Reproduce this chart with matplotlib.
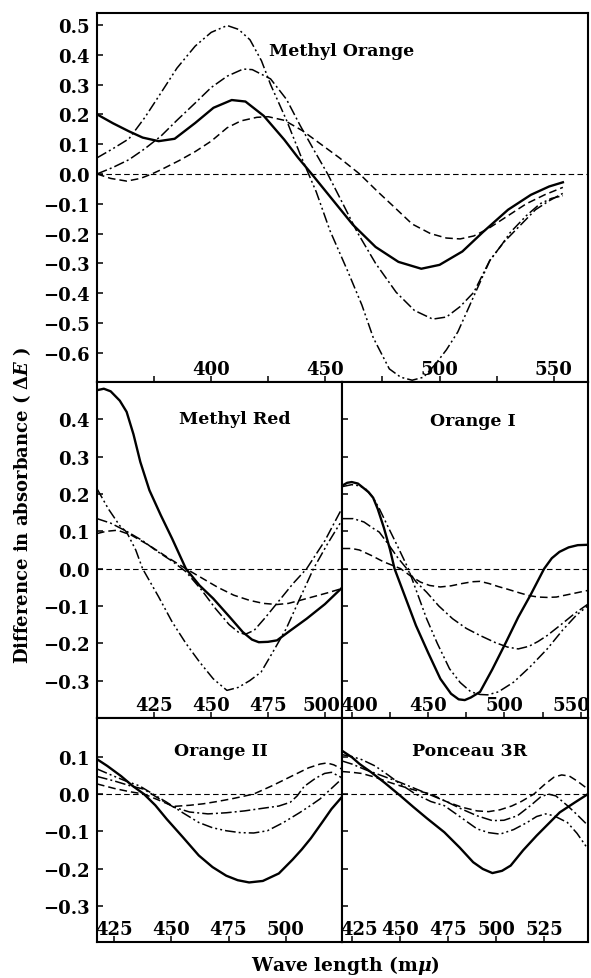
import matplotlib
matplotlib.use("Agg")
import matplotlib.pyplot as plt
import matplotlib.transforms as mtransforms
from matplotlib.ticker import FixedLocator

plt.rcParams["font.family"] = ["DejaVu Serif"]
plt.rcParams["font.weight"] = "bold"
plt.rcParams["mathtext.fontset"] = "dejavuserif"

# ---- Methyl Orange (top panel) ----
mo_solid_x = [350, 357, 364, 370, 377, 384, 393, 401, 409, 415, 423, 432, 438, 444, 453, 462, 472, 482, 492, 500, 510, 519, 530, 540, 548, 554]
mo_solid_y = [0.20, 0.17, 0.143, 0.122, 0.110, 0.118, 0.171, 0.222, 0.248, 0.243, 0.195, 0.115, 0.055, 0.0, -0.085, -0.170, -0.245, -0.295, -0.318, -0.305, -0.260, -0.195, -0.120, -0.070, -0.042, -0.028]
mo_dash_x = [350, 356, 363, 369, 374, 378, 386, 393, 400, 407, 413, 420, 425, 432, 440, 448, 456, 465, 473, 480, 488, 496, 503, 509, 515, 521, 530, 538, 546, 554]
mo_dash_y = [0.0, -0.015, -0.024, -0.015, 0.0, 0.014, 0.045, 0.075, 0.110, 0.155, 0.178, 0.190, 0.192, 0.180, 0.145, 0.100, 0.055, 0.0, -0.060, -0.110, -0.168, -0.200, -0.215, -0.218, -0.208, -0.185, -0.140, -0.100, -0.070, -0.045]
mo_dd_x = [350, 357, 364, 371, 378, 385, 393, 400, 407, 414, 418, 426, 433, 439, 445, 451, 457, 464, 472, 481, 489, 497, 503, 509, 515, 522, 528, 535, 542, 548, 554]
mo_dd_y = [0.0, 0.022, 0.048, 0.085, 0.127, 0.180, 0.238, 0.290, 0.328, 0.352, 0.350, 0.319, 0.250, 0.162, 0.080, 0.0, -0.090, -0.196, -0.300, -0.397, -0.458, -0.487, -0.480, -0.445, -0.397, -0.290, -0.230, -0.175, -0.120, -0.090, -0.065]
mo_ddd_x = [350, 357, 364, 371, 378, 385, 393, 400, 407, 412, 417, 422, 426, 433, 439, 446, 452, 460, 466, 471, 478, 483, 488, 493, 498, 503, 508, 515, 522, 527, 531, 538, 544, 549, 554]
mo_ddd_y = [0.054, 0.085, 0.118, 0.190, 0.272, 0.355, 0.429, 0.475, 0.498, 0.485, 0.450, 0.380, 0.300, 0.180, 0.065, -0.060, -0.190, -0.330, -0.440, -0.550, -0.654, -0.682, -0.692, -0.682, -0.640, -0.590, -0.530, -0.410, -0.291, -0.240, -0.196, -0.140, -0.100, -0.082, -0.073]

# ---- Methyl Red ----
mr_solid_x = [400, 403, 406, 410, 413, 416, 419, 423, 428, 433, 439, 445, 451, 458, 464, 468, 471, 475, 479, 485, 492, 500, 507]
mr_solid_y = [0.478, 0.482, 0.475, 0.450, 0.420, 0.360, 0.286, 0.210, 0.143, 0.080, 0.0, -0.045, -0.080, -0.128, -0.170, -0.190, -0.197, -0.196, -0.192, -0.165, -0.134, -0.095, -0.054]
mr_dash_x = [400, 404, 409, 415, 423, 431, 439, 446, 453, 460, 467, 473, 479, 484, 489, 495, 501, 507]
mr_dash_y = [0.094, 0.100, 0.103, 0.090, 0.062, 0.030, 0.0, -0.025, -0.050, -0.071, -0.085, -0.093, -0.096, -0.093, -0.085, -0.075, -0.065, -0.054]
mr_dd_x = [400, 406, 413, 420, 426, 433, 439, 446, 452, 458, 462, 465, 469, 474, 480, 486, 492, 500, 507]
mr_dd_y = [0.134, 0.122, 0.100, 0.075, 0.048, 0.020, -0.008, -0.058, -0.107, -0.150, -0.170, -0.176, -0.165, -0.130, -0.085, -0.040, 0.0, 0.075, 0.156]
mr_ddd_x = [400, 405, 410, 413, 417, 420, 427, 433, 439, 445, 451, 457, 462, 467, 472, 477, 483, 489, 495, 501, 507]
mr_ddd_y = [0.214, 0.160, 0.115, 0.098, 0.050, 0.0, -0.075, -0.143, -0.200, -0.250, -0.295, -0.326, -0.318, -0.300, -0.277, -0.225, -0.161, -0.080, 0.0, 0.065, 0.125]

# ---- Orange I ----
o1_solid_x = [394, 397, 400, 404, 408, 411, 414, 417, 421, 425, 428, 435, 442, 450, 458, 465, 470, 474, 478, 484, 492, 501, 509, 517, 526, 531, 536, 542, 548, 555]
o1_solid_y = [0.223, 0.230, 0.232, 0.228, 0.215, 0.205, 0.190, 0.160, 0.110, 0.052, 0.0, -0.076, -0.152, -0.225, -0.295, -0.335, -0.350, -0.352, -0.345, -0.330, -0.270, -0.197, -0.130, -0.071, 0.0, 0.028, 0.045, 0.057, 0.063, 0.064]
o1_dash_x = [394, 400, 405, 413, 421, 426, 432, 438, 445, 451, 458, 465, 472, 479, 484, 490, 496, 502, 510, 516, 522, 528, 534, 541, 548, 555]
o1_dash_y = [0.054, 0.054, 0.050, 0.035, 0.018, 0.010, 0.0, -0.018, -0.036, -0.045, -0.049, -0.046, -0.040, -0.035, -0.034, -0.040, -0.048, -0.055, -0.065, -0.072, -0.076, -0.077, -0.076, -0.070, -0.064, -0.058]
o1_dd_x = [394, 401, 408, 414, 418, 424, 430, 436, 442, 449, 457, 466, 475, 484, 494, 502, 509, 516, 522, 528, 537, 546, 555]
o1_dd_y = [0.134, 0.134, 0.125, 0.108, 0.098, 0.065, 0.030, 0.0, -0.035, -0.063, -0.100, -0.134, -0.160, -0.179, -0.198, -0.210, -0.215, -0.208, -0.195, -0.179, -0.150, -0.120, -0.094]
o1_ddd_x = [394, 400, 405, 409, 414, 418, 424, 430, 437, 443, 449, 456, 464, 471, 478, 484, 489, 496, 506, 517, 528, 538, 547, 555]
o1_ddd_y = [0.220, 0.225, 0.222, 0.214, 0.190, 0.161, 0.110, 0.060, 0.0, -0.067, -0.134, -0.200, -0.268, -0.305, -0.330, -0.337, -0.338, -0.330, -0.304, -0.262, -0.215, -0.165, -0.125, -0.098]

# ---- Orange II ----
o2_solid_x = [417.5, 422, 428, 433, 438, 443, 448, 455, 462, 468, 474, 479, 484, 490, 497, 503, 507, 511, 516, 520, 524.4]
o2_solid_y = [0.093, 0.075, 0.048, 0.022, 0.0, -0.030, -0.067, -0.115, -0.164, -0.195, -0.218, -0.230, -0.236, -0.232, -0.212, -0.175, -0.148, -0.118, -0.075, -0.040, -0.009]
o2_dash_x = [417.5, 425, 432, 438, 444, 451, 458, 464, 470, 477, 486, 494, 503, 510, 515, 518, 521, 524.4]
o2_dash_y = [0.027, 0.015, 0.006, 0.0, -0.015, -0.033, -0.030, -0.026, -0.020, -0.012, 0.0, 0.022, 0.049, 0.070, 0.080, 0.083, 0.078, 0.067]
o2_dd_x = [417.5, 425, 432, 438, 444, 451, 458, 466, 474, 482, 490, 497, 502, 505, 508, 513, 517, 520, 524.4]
o2_dd_y = [0.047, 0.035, 0.022, 0.013, -0.010, -0.035, -0.048, -0.053, -0.050, -0.045, -0.038, -0.032, -0.022, -0.005, 0.020, 0.042, 0.055, 0.058, 0.044]
o2_ddd_x = [417.5, 424, 430, 436, 442, 448, 455, 462, 468, 474, 480, 486, 492, 499, 506, 511, 515, 520, 524.4]
o2_ddd_y = [0.067, 0.050, 0.035, 0.022, 0.0, -0.022, -0.050, -0.076, -0.090, -0.098, -0.103, -0.104, -0.098, -0.076, -0.050, -0.030, -0.013, 0.015, 0.040]

# ---- Ponceau 3R ----
p3_solid_x = [420, 425, 429, 435, 442, 450, 457, 464, 473, 481, 488, 493, 498, 503, 507.5, 514, 521, 527, 533, 541, 547.7]
p3_solid_y = [0.115, 0.098, 0.080, 0.058, 0.030, -0.004, -0.035, -0.065, -0.102, -0.143, -0.182, -0.200, -0.211, -0.205, -0.191, -0.150, -0.111, -0.080, -0.049, -0.022, 0.0]
p3_dash_x = [420, 425, 430, 437, 444, 450, 458, 466, 474, 482, 490, 496, 502, 508, 513, 519.6, 525, 530, 534, 538, 542, 547.7]
p3_dash_y = [0.060, 0.058, 0.055, 0.045, 0.032, 0.022, 0.010, 0.0, -0.020, -0.035, -0.045, -0.047, -0.042, -0.032, -0.020, 0.0, 0.025, 0.045, 0.051, 0.048, 0.035, 0.013]
p3_dd_x = [420, 425, 432, 440, 450, 460, 467, 474, 482, 490, 498, 504, 511, 518, 523, 527, 531, 537, 542, 547.7]
p3_dd_y = [0.088, 0.080, 0.065, 0.050, 0.031, 0.010, -0.005, -0.020, -0.040, -0.058, -0.071, -0.070, -0.058, -0.030, -0.008, 0.0, -0.005, -0.031, -0.055, -0.084]
p3_ddd_x = [420, 425, 430, 437, 444, 450, 458, 466, 473, 481, 490, 496, 502, 509, 516, 521, 525.7, 530, 537, 542, 547.7]
p3_ddd_y = [0.105, 0.100, 0.092, 0.075, 0.050, 0.027, 0.0, -0.020, -0.031, -0.060, -0.093, -0.103, -0.107, -0.095, -0.076, -0.060, -0.053, -0.058, -0.076, -0.105, -0.147]

titles = ["Methyl Orange", "Methyl Red", "Orange I", "Orange II", "Ponceau 3R"]

W, H = 591, 979
fig = plt.figure(figsize=(W / 100, H / 100), dpi=100)


def px_axes(x0, y0, x1, y1):
    return fig.add_axes([x0 / W, 1 - y1 / H, (x1 - x0) / W, (y1 - y0) / H])


STYLES = {
    "solid": dict(color="black", lw=1.7, linestyle="-"),
    "dash": dict(color="black", lw=1.1, linestyle=(0, (5, 2.6))),
    "dd": dict(color="black", lw=1.1, linestyle=(0, (7, 2, 1.3, 2))),
    "ddd": dict(color="black", lw=1.1, linestyle=(0, (7, 2, 1.3, 2, 1.3, 2))),
}


def fmt(v):
    return f"{v:.1f}".replace("-", "\u2212")


def panel(rect, xlim, ylim, xmaj, xmin, yt, series, title, title_xy,
          ylabels=True, xshift=None):
    ax = px_axes(*rect)
    ax.set_xlim(*xlim)
    ax.set_ylim(*ylim)
    ax.axhline(0, color="black", lw=0.8, linestyle=(0, (5, 3)), zorder=1)
    for kind, xs, ys in series:
        ax.plot(xs, ys, **STYLES[kind], zorder=2)
    ax.xaxis.set_major_locator(FixedLocator(xmaj))
    ax.xaxis.set_minor_locator(FixedLocator(xmin))
    ax.set_yticks(yt)
    if ylabels:
        ax.set_yticklabels([fmt(v) for v in yt])
    else:
        ax.set_yticklabels([])
    ax.tick_params(axis="both", which="both", direction="in", length=4, width=1.1,
                   labelsize=13, top=False, right=False, labelbottom=False)
    ax.tick_params(axis="y", pad=5)
    for lab in ax.get_yticklabels():
        lab.set_fontweight("bold")
    for sp in ax.spines.values():
        sp.set_linewidth(1.5)

    # x tick labels sit inside the frame, just above the bottom spine
    base = ax.get_xaxis_transform()
    shifts = xshift or {}
    for v in xmaj:
        tr = mtransforms.offset_copy(base, fig=fig, x=shifts.get(v, 0), y=8,
                                     units="dots")
        ax.text(v, 0, str(v), transform=tr, ha="center", va="baseline",
                fontsize=13, fontweight="bold")

    ax.text(title_xy[0], title_xy[1], title, transform=ax.transAxes, ha="center",
            va="center", fontsize=12.5, fontweight="bold")
    return ax


# top panel
panel((97, 14, 588, 383), (350, 565), (-0.698, 0.54),
      [400, 450, 500, 550], [375, 425, 475, 525],
      [0.5, 0.4, 0.3, 0.2, 0.1, 0.0, -0.1, -0.2, -0.3, -0.4, -0.5, -0.6],
      [("solid", mo_solid_x, mo_solid_y), ("dash", mo_dash_x, mo_dash_y),
       ("dd", mo_dd_x, mo_dd_y), ("ddd", mo_ddd_x, mo_ddd_y)],
      titles[0], ((342 - 97) / 491, 1 - (52 - 14) / 369))

mid_y = [0.4, 0.3, 0.2, 0.1, 0.0, -0.1, -0.2, -0.3]
panel((97, 383, 342, 719), (400, 507.5), (-0.40, 0.50),
      [425, 450, 475, 500], [],
      mid_y,
      [("solid", mr_solid_x, mr_solid_y), ("dash", mr_dash_x, mr_dash_y),
       ("dd", mr_dd_x, mr_dd_y), ("ddd", mr_ddd_x, mr_ddd_y)],
      titles[1], ((235 - 97) / 245, 1 - (419 - 383) / 336),
      xshift={500: -3})

panel((342, 383, 588, 719), (393.6, 554.7), (-0.40, 0.50),
      [400, 450, 500, 550], [425, 475, 525],
      mid_y,
      [("solid", o1_solid_x, o1_solid_y), ("dash", o1_dash_x, o1_dash_y),
       ("dd", o1_dd_x, o1_dd_y), ("ddd", o1_ddd_x, o1_ddd_y)],
      titles[2], ((473 - 342) / 246, 1 - (422 - 383) / 336), ylabels=False,
      xshift={400: 7, 550: -9})

bot_y = [0.1, 0.0, -0.1, -0.2, -0.3]
panel((97, 719, 342, 943), (417.5, 524.6), (-0.395, 0.203),
      [425, 450, 475, 500], [],
      bot_y,
      [("solid", o2_solid_x, o2_solid_y), ("dash", o2_dash_x, o2_dash_y),
       ("dd", o2_dd_x, o2_dd_y), ("ddd", o2_ddd_x, o2_ddd_y)],
      titles[3], ((221 - 97) / 245, 1 - (752 - 719) / 224))

panel((342, 719, 588, 943), (419.8, 547.7), (-0.395, 0.203),
      [425, 450, 475, 500, 525], [],
      bot_y,
      [("solid", p3_solid_x, p3_solid_y), ("dash", p3_dash_x, p3_dash_y),
       ("dd", p3_dd_x, p3_dd_y), ("ddd", p3_ddd_x, p3_ddd_y)],
      titles[4], ((470 - 342) / 246, 1 - (752 - 719) / 224), ylabels=False,
      xshift={425: 7})

fig.text(22 / W, 1 - 505 / H, r"Difference in absorbance ( $\mathit{\Delta E}$ )",
         rotation=90, ha="center", va="center", fontsize=13, fontweight="bold")
fig.text(345 / W, 1 - 966 / H, r"Wave length (m$\mu$)",
         ha="center", va="center", fontsize=13.5, fontweight="bold")

fig.savefig("out.png", dpi=100)
